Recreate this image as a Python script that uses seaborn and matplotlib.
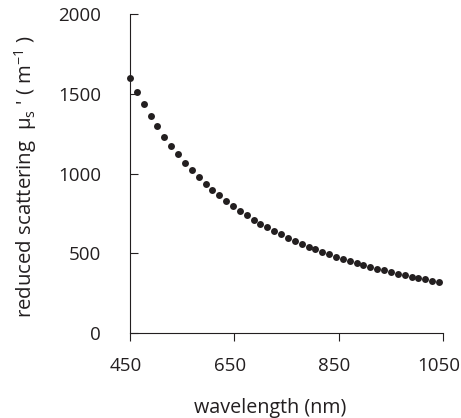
import matplotlib
matplotlib.use("Agg")
import matplotlib.pyplot as plt
import matplotlib.transforms as mtransforms
import seaborn as sns
import pandas as pd

wavelength = [450.0, 463.2, 476.3, 489.5, 502.6, 515.8, 529.0, 542.1, 555.3, 568.4,
              581.6, 594.8, 607.9, 621.1, 634.2, 647.4, 660.6, 673.7, 686.9, 700.0,
              713.2, 726.4, 739.5, 752.7, 765.8, 779.0, 792.2, 805.3, 818.5, 831.6,
              844.8, 858.0, 871.1, 884.3, 897.4, 910.6, 923.8, 936.9, 950.1, 963.2,
              976.4, 989.6, 1002.7, 1015.9, 1029.0, 1042.2]
mu_s = [1600, 1514, 1435, 1362, 1295, 1232, 1174, 1120, 1069, 1023,
        979, 937, 899, 863, 829, 797, 767, 738, 711, 686,
        662, 639, 618, 597, 578, 559, 541, 525, 508, 493,
        479, 465, 451, 439, 426, 415, 403, 393, 382, 372,
        363, 353, 345, 336, 328, 320]
xticks = [450, 650, 850, 1050]
yticks = [0, 500, 1000, 1500, 2000]

sns.set_theme(style="white")
plt.rcParams['font.family'] = ['Open Sans', 'DejaVu Sans']
plt.rcParams['mathtext.fontset'] = 'custom'
plt.rcParams['mathtext.rm'] = 'Open Sans'
plt.rcParams['mathtext.it'] = 'Open Sans'

INK = "#231f20"
df = pd.DataFrame({"wavelength": wavelength, "mu": mu_s})

fig = plt.figure(figsize=(4.61, 4.18), dpi=100)
ax = fig.add_axes([0.282, 0.2033, 0.679, 0.7632])
sns.scatterplot(data=df, x="wavelength", y="mu", ax=ax, color=INK,
                s=25, linewidth=0, clip_on=False)

ax.set_xlim(450, 1050)
ax.set_ylim(0, 2000)
ax.set_xticks(xticks)
ax.set_yticks(yticks)
ax.set_xticklabels([str(t) for t in xticks])
ax.set_yticklabels([str(t) for t in yticks])
sns.despine(ax=ax)
for s in ["left", "bottom"]:
    ax.spines[s].set_color(INK)
    ax.spines[s].set_linewidth(0.8)

ax.tick_params(axis="x", direction="out", length=5.5, width=0.8, color=INK,
               pad=12, labelsize=13.5, labelcolor=INK, bottom=True)
ax.tick_params(axis="y", direction="in", length=5.5, width=0.8, color=INK,
               pad=21, labelsize=13.5, labelcolor=INK, left=True)

shift = mtransforms.ScaledTranslation(-4.5 / 100, 0, fig.dpi_scale_trans)
for lab in ax.get_xticklabels():
    lab.set_transform(lab.get_transform() + shift)

ax.set_xlabel("wavelength (nm)", fontsize=14.2, color=INK)
ax.xaxis.set_label_coords(0.447, -0.204)
ax.set_ylabel("reduced scattering  μ$_\\mathregular{s}$ ' ( m$^\\mathregular{-1}$ )",
              fontsize=14.7, color=INK)
ax.yaxis.set_label_coords(-0.29, 0.49)

fig.savefig("out.png", dpi=100)
